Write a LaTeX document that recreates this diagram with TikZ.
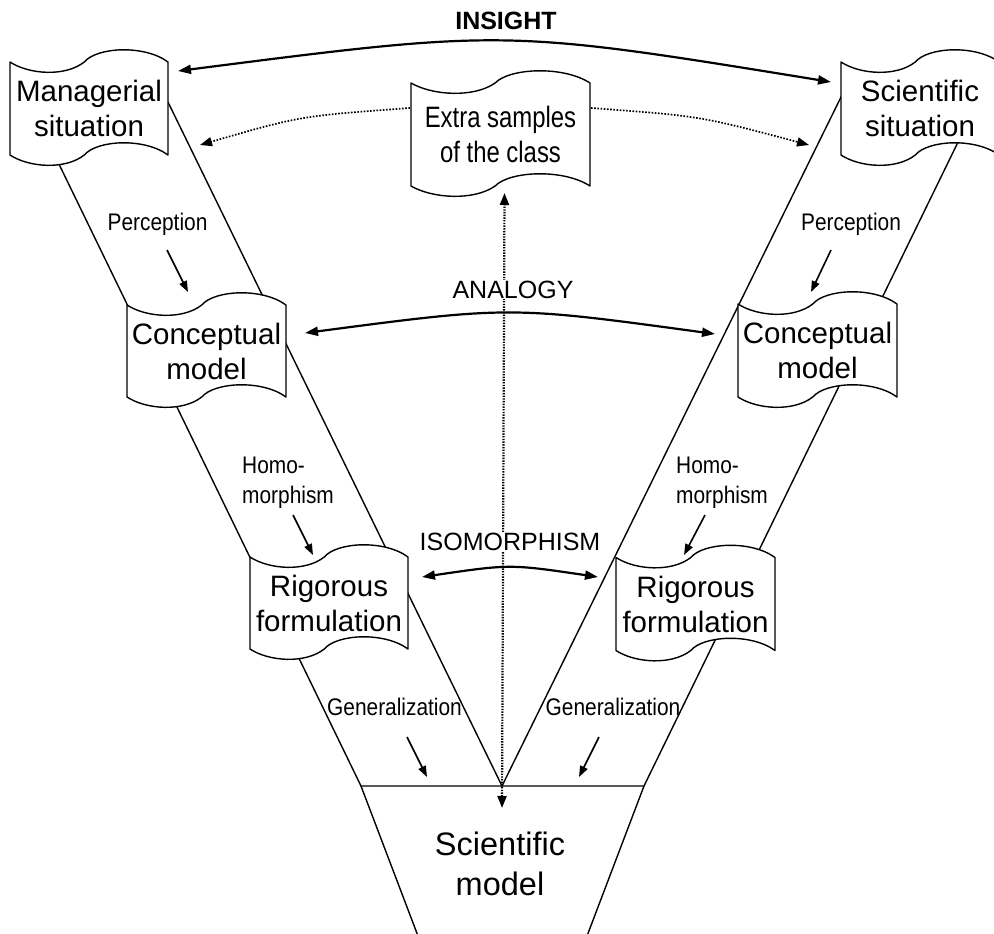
\documentclass[tikz,border=0pt]{standalone}
\usepackage{fontspec}
\setmainfont{Liberation Sans}
\newfontfamily\narrowfont[FakeStretch=0.87]{Liberation Sans}
\newfontfamily\extrafont[FakeStretch=0.81]{Liberation Sans}
\usetikzlibrary{arrows.meta}
\def\waveamp{12.5}
\newcommand\docbox[7][]{%
  \pgfmathsetmacro\dbL{#3-#5/2}\pgfmathsetmacro\dbR{#3+#5/2}%
  \pgfmathsetmacro\dbT{#4-#6/2}\pgfmathsetmacro\dbB{#4+#6/2}%
  \pgfmathsetmacro\dbW{#5}%
  \filldraw[docline] (\dbL,\dbT)
    .. controls ({\dbL+0.12*\dbW},{\dbT+\waveamp}) and ({\dbL+0.35*\dbW},{\dbT+1.2*\waveamp}) .. ({\dbL+0.47*\dbW},\dbT)
    .. controls ({\dbL+0.55*\dbW},{\dbT-1.2*\waveamp}) and ({\dbL+0.85*\dbW},{\dbT-1.4*\waveamp}) .. (\dbR,\dbT)
    -- (\dbR,\dbB)
    .. controls ({\dbL+0.85*\dbW},{\dbB-1.4*\waveamp}) and ({\dbL+0.55*\dbW},{\dbB-1.2*\waveamp}) .. ({\dbL+0.47*\dbW},\dbB)
    .. controls ({\dbL+0.35*\dbW},{\dbB+1.2*\waveamp}) and ({\dbL+0.12*\dbW},{\dbB+\waveamp}) .. (\dbL,\dbB) -- cycle;
  \node[doctext,minimum width=#5,minimum height=#6,#1] (#2) at (#3,#4) {#7};}
\begin{document}
\begin{tikzpicture}[x=1pt,y=-1pt,
  docline/.style={line width=1.4pt, fill=white, draw=black, line join=round},
  band/.style={line width=1.4pt, line cap=round},
  doctext/.style={align=center, inner sep=0pt, font=\fontsize{29.5}{35}\selectfont},
  extratext/.style={font=\extrafont\fontsize{29.5}{35}\selectfont},
  lbl/.style={inner sep=0pt, font=\narrowfont\fontsize{24}{30}\selectfont, align=left},
  caplbl/.style={inner sep=1pt, fill=white, font=\fontsize{25}{30}\selectfont},
  bigarc/.style={line width=2.2pt, {Triangle[length=13pt,width=9pt]}-{Triangle[length=13pt,width=9pt]}},
  smallarr/.style={line width=1.6pt, -{Triangle[length=11pt,width=8pt]}},
  dotarr/.style={line width=1.7pt, dash pattern=on 1.6pt off 1.6pt, -{Triangle[length=12pt,width=9pt]}},
  vdot/.style={line width=2.2pt, dash pattern=on 1.4pt off 1.3pt, {Triangle[length=12pt,width=9pt]}-{Triangle[length=12pt,width=9pt]}}
]
\useasboundingbox (0,0) rectangle (994,934);
% coordinates of the V and the funnel
\coordinate (lo1) at (57,160);  \coordinate (tl) at (361,786);
\coordinate (li1) at (166,98);  \coordinate (apex) at (502,786);
\coordinate (ri1) at (843,93);
\coordinate (ro1) at (960,138); \coordinate (tr) at (644,786);
\coordinate (br) at (587,936);  \coordinate (bl) at (418,936);
% bands
\draw[band] (lo1) -- (tl);
\draw[band] (li1) -- (apex);
\draw[band] (ri1) -- (apex);
\draw[band] (ro1) -- (tr);
\draw[band, line join=round] (tl) -- (tr) -- (br) -- (bl) -- cycle;
\node[inner sep=0pt, align=center, font=\fontsize{32.5}{40}\selectfont] (sm) at (500,864) {Scientific\\model};
% vertical dotted link
\coordinate (vbot) at (502,808);
\coordinate (vtop) at (504.5,193);
\draw[vdot] (vbot) -- (vtop);
% boxes
\docbox{ms}{89}{108.5}{158}{93}{Managerial\\situation}
\docbox{ss}{920}{108.5}{158}{93}{Scientific\\situation}
\docbox[extratext]{es}{500.5}{134.5}{179}{103}{Extra samples\\of the class}
\docbox{cl}{206.5}{351}{159}{92}{Conceptual\\model}
\docbox{cr}{817.5}{350.5}{159}{93}{Conceptual\\model}
\docbox{rl}{329}{603}{158}{92}{Rigorous\\formulation}
\docbox{rr}{695.5}{604}{159}{93}{Rigorous\\formulation}
% capital labels
\node[inner sep=0pt, font=\bfseries\fontsize{25}{30}\selectfont, anchor=base] (insight) at (506,30) {INSIGHT};
\node[caplbl, anchor=base] (analogy) at (513,298) {ANALOGY};
\node[caplbl, anchor=base] (iso) at (510,550) {ISOMORPHISM};
% big arcs
\coordinate (ia) at (178,71); \coordinate (ib) at (831,82);
\draw[bigarc] (ia) .. controls (505,29) .. (ib);
\coordinate (aa) at (305,333); \coordinate (ab) at (715,334);
\draw[bigarc] (aa) .. controls (510,306) .. (ab);
\coordinate (sa) at (422,577); \coordinate (sb) at (598,577);
\draw[bigarc] (sa) .. controls (510,564) .. (sb);
% dotted arrows from extra samples
\coordinate (esl) at (410,108); \coordinate (esr) at (591,108);
\coordinate (dl) at (200,145); \coordinate (dr) at (809,145);
\draw[dotarr] (esl) .. controls (300,116) .. (dl);
\draw[dotarr] (esr) .. controls (700,116) .. (dr);
% step labels
\node[lbl, anchor=base] (pl) at (157.5,230) {Perception};
\node[lbl, anchor=base] (pr) at (851,230) {Perception};
\node[lbl, anchor=base west] (hl) at (242,503) {Homo-\\morphism};
\node[lbl, anchor=base west] (hr) at (676,503) {Homo-\\morphism};
\node[lbl, anchor=base] (gl) at (394.5,715) {Generalization};
\node[lbl, anchor=base] (gr) at (613,715) {Generalization};
% step arrows
\coordinate (pla) at (167,250); \coordinate (plb) at (188,292);
\coordinate (pra) at (831,250); \coordinate (prb) at (811,292);
\coordinate (hla) at (293,515); \coordinate (hlb) at (313,555);
\coordinate (hra) at (705,515); \coordinate (hrb) at (684,555);
\coordinate (gla) at (407,737); \coordinate (glb) at (427,777);
\coordinate (gra) at (599,737); \coordinate (grb) at (579,777);
\draw[smallarr] (pla) -- (plb);
\draw[smallarr] (pra) -- (prb);
\draw[smallarr] (hla) -- (hlb);
\draw[smallarr] (hra) -- (hrb);
\draw[smallarr] (gla) -- (glb);
\draw[smallarr] (gra) -- (grb);
\end{tikzpicture}
\end{document}
